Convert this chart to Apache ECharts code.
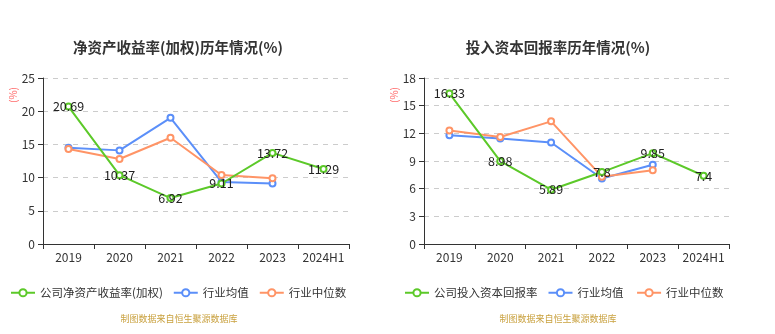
<!DOCTYPE html>
<html>
<head>
<meta charset="utf-8">
<script src="https://cdn.jsdelivr.net/npm/echarts@6/dist/echarts.min.js"></script>
<style>
html,body{margin:0;padding:0;background:#fff;}
#chart{width:775px;height:334px;}
</style>
</head>
<body>
<div id="chart"></div>
<script>
// Categories shared by both panels
const years = ['2019', '2020', '2021', '2022', '2023', '2024H1'];

// Left panel: ROE (weighted)
const roeCompany = [20.69, 10.37, 6.92, 9.11, 13.72, 11.29];
const roeIndustryAvg = [14.5, 14.1, 19.0, 9.35, 9.1, null];
const roeIndustryMedian = [14.3, 12.8, 16.0, 10.4, 9.9, null];

// Right panel: ROIC
const roicCompany = [16.33, 8.98, 5.89, 7.8, 9.85, 7.4];
const roicIndustryAvg = [11.8, 11.45, 11.0, 7.1, 8.6, null];
const roicIndustryMedian = [12.3, 11.6, 13.3, 7.3, 8.0, null];

const GREEN = '#5cc929';
const BLUE = '#5b8ff9';
const ORANGE = '#ff9466';
const FONT = '"Noto Sans CJK SC", "Noto Sans", sans-serif';

const chart = echarts.init(document.getElementById('chart'), null, { renderer: 'canvas' });

function xAxis(gridIndex) {
  return {
    type: 'category', gridIndex, data: years, boundaryGap: true,
    axisLine: { lineStyle: { color: '#333' } },
    axisTick: { show: true, lineStyle: { color: '#333' } },
    axisLabel: { color: '#333', fontSize: 12, fontFamily: FONT, margin: 7, interval: 0 }
  };
}
function yAxis(gridIndex, max, interval) {
  return {
    type: 'value', gridIndex, min: 0, max, interval,
    axisLine: { show: true, lineStyle: { color: '#333' } },
    axisTick: { show: true, lineStyle: { color: '#333' } },
    axisLabel: { color: '#333', fontSize: 12, fontFamily: FONT, margin: 8 },
    splitLine: { lineStyle: { color: '#ccc', type: [5, 5] } }
  };
}
function line(name, data, color, idx, withLabel) {
  return {
    name, type: 'line', data, xAxisIndex: idx, yAxisIndex: idx,
    symbol: 'emptyCircle', symbolSize: 6, connectNulls: false,
    lineStyle: { width: 2, color }, itemStyle: { color },
    label: withLabel ? { show: true, position: 'inside', color: '#222', fontSize: 12.5, fontFamily: FONT } : { show: false },
    z: withLabel ? 3 : 2
  };
}
// Rotated unit marker beside each value axis
function unitText(x) {
  return {
    type: 'text', x, y: 95, rotation: Math.PI / 2,
    style: { text: '(%)', fill: '#ff6b6b', font: '10px ' + FONT, textAlign: 'center', textVerticalAlign: 'middle' }
  };
}
function legend(left, names) {
  return {
    left, top: 282, itemWidth: 24, itemHeight: 9, itemGap: 10,
    textStyle: { color: '#333', fontSize: 11.5, fontFamily: FONT },
    data: names
  };
}

chart.setOption({
  animation: false,
  title: [
    { text: '净资产收益率(加权)历年情况(%)', left: 173, top: 35, textAlign: 'center',
      textStyle: { fontSize: 14.5, fontWeight: 'bold', color: '#333', fontFamily: FONT } },
    { text: '投入资本回报率历年情况(%)', left: 553, top: 35, textAlign: 'center',
      textStyle: { fontSize: 14.5, fontWeight: 'bold', color: '#333', fontFamily: FONT } },
    { text: '制图数据来自恒生聚源数据库', left: 174, top: 309, textAlign: 'center',
      textStyle: { fontSize: 9, fontWeight: 'normal', color: '#c9a13f', fontFamily: FONT } },
    { text: '制图数据来自恒生聚源数据库', left: 553, top: 309, textAlign: 'center',
      textStyle: { fontSize: 9, fontWeight: 'normal', color: '#c9a13f', fontFamily: FONT } }
  ],
  graphic: [unitText(13), unitText(394)],
  legend: [
    legend(5, ['公司净资产收益率(加权)', '行业均值', '行业中位数']),
    legend(399, ['公司投入资本回报率', '行业均值 ', '行业中位数 '])
  ],
  grid: [
    { left: 43, top: 78, width: 306, height: 166 },
    { left: 424, top: 78, width: 305, height: 166 }
  ],
  xAxis: [xAxis(0), xAxis(1)],
  yAxis: [yAxis(0, 25, 5), yAxis(1, 18, 3)],
  series: [
    line('行业均值', roeIndustryAvg, BLUE, 0, false),
    line('行业中位数', roeIndustryMedian, ORANGE, 0, false),
    line('公司净资产收益率(加权)', roeCompany, GREEN, 0, true),
    line('行业均值 ', roicIndustryAvg, BLUE, 1, false),
    line('行业中位数 ', roicIndustryMedian, ORANGE, 1, false),
    line('公司投入资本回报率', roicCompany, GREEN, 1, true)
  ]
});
</script>
</body>
</html>
